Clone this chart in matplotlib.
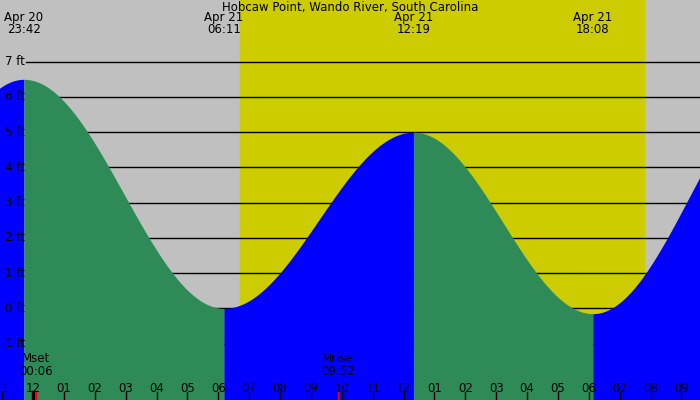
import numpy as np
import matplotlib.pyplot as plt

# tide extremes (hours from Apr 21 00:00, feet)
ext_t = [-6.5, -0.3, 6.18, 12.32, 18.13, 24.4]
ext_h = [0.0, 6.5, 0.0, 5.0, -0.15, 6.5]
ext_labels = ["Apr 20\n23:42", "Apr 21\n06:11", "Apr 21\n12:19", "Apr 21\n18:08"]
sunrise, sunset = 6.7, 19.8
moon_t = [0.1, 9.87]
moon_labels = ["Mset\n00:06", "Mrise\n09:52"]
hour_ticks = list(range(-1, 22))
ft_levels = list(range(-1, 8))

x0, x1 = -1.07, 21.6
y0, y1 = -2.6, 8.75

fig = plt.figure(figsize=(7, 4), dpi=100)
ax = fig.add_axes([0, 0, 1, 1])
ax.set_xlim(x0, x1)
ax.set_ylim(y0, y1)
ax.axis("off")
ax.add_patch(plt.Rectangle((x0, y0), x1 - x0, y1 - y0, color="#c0c0c0", zorder=0))
ax.axvspan(sunrise, sunset, color="#cccc00", zorder=1)

for f in ft_levels:
    ax.plot([-0.24, x1], [f, f], color="black", lw=1, zorder=2)
    ax.text(-0.26, f, f"{f} ft".replace("-", "-"), ha="right", va="center",
            fontsize=8.5, zorder=5)

for i in range(len(ext_t) - 1):
    ta, tb = ext_t[i], ext_t[i + 1]
    ha, hb = ext_h[i], ext_h[i + 1]
    t = np.linspace(ta, tb, 200)
    h = ha + (hb - ha) * (1 - np.cos(np.pi * (t - ta) / (tb - ta))) / 2
    col = "#2e8b57" if hb < ha else "#0000ff"
    ax.fill_between(t, y0, h, color=col, lw=0, zorder=3)

for t, lab in zip(ext_t[1:5], ext_labels):
    ax.text(t, y1 - 0.3, lab, ha="center", va="top", fontsize=8.5, linespacing=0.95, zorder=5)

ax.text((x0 + x1) / 2, y1 - 0.02, "Hobcaw Point, Wando River, South Carolina",
        ha="center", va="top", fontsize=8.5, zorder=5)

for t, lab in zip(moon_t, moon_labels):
    ax.text(t, -1.6, lab, ha="center", va="center", fontsize=8.5, linespacing=0.95, zorder=5)
    ax.plot([t, t], [y0, y0 + 0.22], color="red", lw=1, zorder=5)

for hr in hour_ticks:
    lab = f"{(hr - 1) % 12 + 1:02d}"
    ax.text(hr, -2.26, lab, ha="center", va="center", fontsize=8.5, zorder=5)
    ax.plot([hr, hr], [y0, y0 + 0.22], color="black", lw=2.5 if hr == 0 else 1, zorder=5)

fig.savefig("out.png", dpi=100)
